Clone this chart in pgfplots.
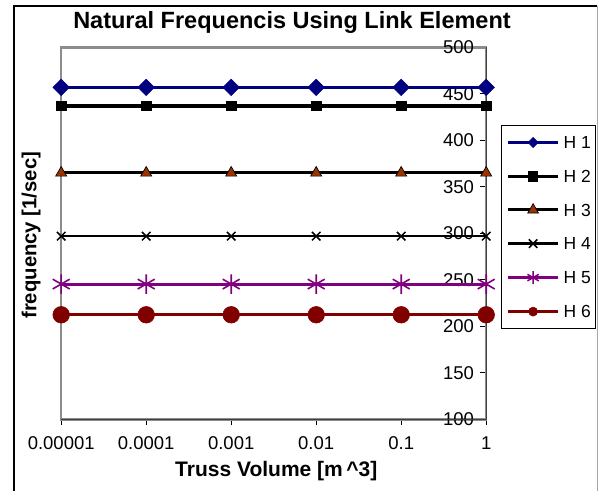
\documentclass[border=0pt]{standalone}
\usepackage{fontspec}
\setmainfont{Liberation Sans}
\usepackage{pgfplots}
\pgfplotsset{compat=1.18}
\definecolor{hnavy}{RGB}{0,0,128}
\definecolor{hbrown}{RGB}{153,51,0}
\definecolor{hpurple}{RGB}{128,0,128}
\definecolor{hred}{RGB}{128,0,0}
\definecolor{bordergray}{RGB}{140,140,140}
\begin{document}
\begin{tikzpicture}[x=1pt,y=1pt]
\useasboundingbox (0,0) rectangle (599,491);
\draw[black, line width=1.5pt] (14,0) -- (14,485) -- (597,485);
\draw[black!35, line width=0.8pt] (597,485) -- (597,0);
\node[anchor=base, font=\fontsize{23.5}{28}\selectfont\bfseries] at (292,462) {Natural Frequencis Using Link Element};
\begin{axis}[
  at={(72,77)}, anchor=south west,
  scale only axis, width=425pt, height=372pt,
  xmin=0, xmax=5, ymin=100, ymax=500,
  clip=false,
  xtick={0,1,2,3,4,5},
  xticklabels={0.00001,0.0001,0.001,0.01,0.1,1},
  ytick={100,150,200,250,300,350,400,450,500},
  xtick pos=bottom, ytick pos=right, yticklabel pos=right,
  xtick align=outside, ytick align=inside,
  major tick length=6pt,
  tick style={black, line width=0.8pt},
  axis line style={bordergray, line width=2.5pt},
  /pgf/number format/assume math mode=true,
  ticklabel style={font=\fontsize{18.5}{22}\selectfont},
  yticklabel style={anchor=east, inner sep=0pt, xshift=-12pt},
  xticklabel style={anchor=north, inner sep=0pt, yshift=-11pt},
  xlabel={Truss Volume [m\,\textasciicircum 3]},
  ylabel={frequency [1/sec]},
  every axis x label/.style={at={(axis description cs:0.506,-0.153)}, anchor=base, font=\fontsize{21}{25}\selectfont\bfseries},
  every axis y label/.style={at={(axis description cs:-0.0706,0.495)}, anchor=center, rotate=90, font=\fontsize{20.3}{25}\selectfont\bfseries},
  legend style={at={(1.0353,0.7903)}, anchor=north west, draw=black, line width=0.8pt,
    inner xsep=5pt, inner ysep=10.5pt, row sep=21.3pt, column sep=4pt,
    nodes={inner sep=0pt, text height=12.4pt, text depth=0pt, font=\fontsize{17.5}{20}\selectfont}},
  legend cell align=left,
  legend image code/.code={\draw[mark repeat=2, mark phase=2, #1] plot coordinates {(0pt,0pt) (25pt,0pt) (50pt,0pt)};},
]
\draw[black!75, line width=1.2pt] (rel axis cs:0,0) -- (rel axis cs:1,0) -- (rel axis cs:1,1);

\addplot[forget plot, hnavy, line width=3pt, mark=square*, mark size=5.8pt, mark options={rotate=45, fill=hnavy, line width=0.6pt}]
  coordinates {(0,457) (1,457) (2,457) (3,457) (4,457) (5,457)};
\addplot[forget plot, black, line width=3.2pt, mark=square*, mark size=4.7pt, mark options={fill=black, line width=0.6pt}]
  coordinates {(0,437) (1,437) (2,437) (3,437) (4,437) (5,437)};
\addplot[forget plot, black, line width=3pt, mark=triangle*, mark size=6.4pt, mark options={fill=hbrown, draw=black, line width=0.7pt}]
  coordinates {(0,365) (1,365) (2,365) (3,365) (4,365) (5,365)};
\addplot[forget plot, black, line width=2.6pt, mark=x, mark size=6pt, mark options={line width=1.5pt}]
  coordinates {(0,297) (1,297) (2,297) (3,297) (4,297) (5,297)};
\addplot[forget plot, hpurple, line width=3pt, mark=asterisk, mark size=9.8pt, mark options={line width=1.6pt}]
  coordinates {(0,245.5) (1,245.5) (2,245.5) (3,245.5) (4,245.5) (5,245.5)};
\addplot[forget plot, hred, line width=3pt, mark=*, mark size=8.3pt, mark options={fill=hred, line width=0.6pt}]
  coordinates {(0,212.5) (1,212.5) (2,212.5) (3,212.5) (4,212.5) (5,212.5)};

\addlegendimage{hnavy, line width=3pt, mark=square*, mark size=3.6pt, mark options={rotate=45, fill=hnavy, line width=0.6pt}}
\addlegendentry{H 1}
\addlegendimage{black, line width=3pt, mark=square*, mark size=4.6pt, mark options={fill=black, line width=0.6pt}}
\addlegendentry{H 2}
\addlegendimage{black, line width=3pt, mark=triangle*, mark size=6.2pt, mark options={fill=hbrown, draw=black, line width=0.7pt}}
\addlegendentry{H 3}
\addlegendimage{black, line width=2.6pt, mark=x, mark size=6pt, mark options={line width=1.5pt}}
\addlegendentry{H 4}
\addlegendimage{hpurple, line width=3pt, mark=asterisk, mark size=6.5pt, mark options={line width=1.5pt}}
\addlegendentry{H 5}
\addlegendimage{hred, line width=3pt, mark=*, mark size=4.5pt, mark options={fill=hred, line width=0.6pt}}
\addlegendentry{H 6}
\end{axis}
\end{tikzpicture}
\end{document}
